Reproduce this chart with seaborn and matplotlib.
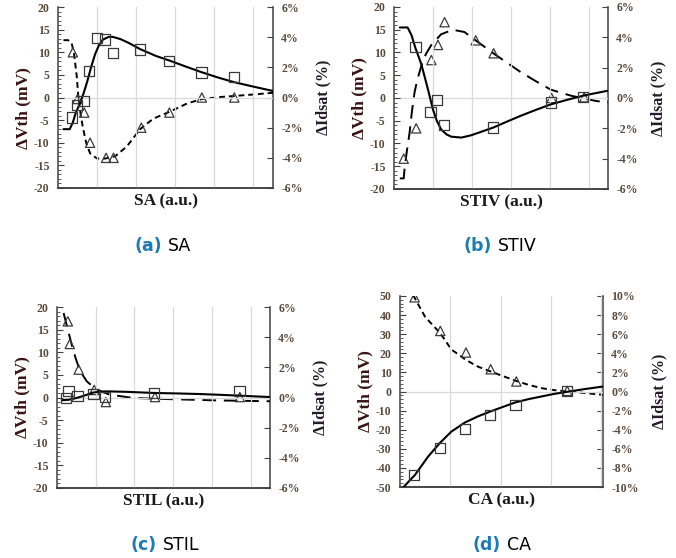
import numpy as np
import pandas as pd
import matplotlib
matplotlib.use("Agg")
import matplotlib.pyplot as plt
import seaborn as sns
from matplotlib.ticker import MultipleLocator, FuncFormatter

# ---- (a) SA ----
sa_sq_x = [0.35, 0.48, 0.65, 0.80, 0.99, 1.21, 1.40, 2.10, 2.84, 3.67, 4.50]
sa_sq_y = [-4.4, -1.6, -0.8, 5.8, 13.2, 12.8, 9.9, 10.6, 8.0, 5.5, 4.6]
sa_tri_x = [0.38, 0.50, 0.67, 0.82, 1.23, 1.42, 2.13, 2.85, 3.68, 4.51]
sa_tri_y = [3.0, -0.1, -1.0, -3.0, -4.0, -4.0, -2.0, -1.0, 0.0, 0.0]
sa_fit_x = [0.14, 0.30, 0.38, 0.45, 0.55, 0.65, 0.75, 0.85, 0.95, 1.05, 1.15, 1.30, 1.40,
            1.60, 1.80, 2.10, 2.50, 2.84, 3.25, 3.67, 4.10, 4.50, 5.00, 5.52]
sa_fit_y = [-7.0, -7.0, -5.5, -3.5, -1.5, 0.8, 3.6, 6.8, 9.6, 11.6, 12.8, 13.4, 13.4,
            12.9, 12.1, 10.7, 9.2, 8.2, 6.9, 5.6, 4.4, 3.4, 2.4, 1.4]
sa_dash_x = [0.14, 0.26, 0.35, 0.41, 0.48, 0.52, 0.56, 0.63, 0.72, 0.82, 1.00, 1.20,
             1.46, 1.76, 2.10, 2.44, 2.85, 3.30, 3.68, 4.10, 4.50, 5.00, 5.52]
sa_dash_y = [3.8, 3.8, 3.6, 2.9, 1.4, 0.05, -0.8, -1.9, -3.0, -3.7, -4.05, -4.05,
             -3.9, -3.25, -2.1, -1.4, -0.95, -0.4, -0.1, 0.02, 0.1, 0.2, 0.32]

# ---- (b) STIV ----
stiv_sq_x = [0.55, 0.94, 1.11, 1.28, 2.55, 4.03, 4.86]
stiv_sq_y = [11.2, -3.1, -0.4, -5.9, -6.5, -1.0, 0.2]
stiv_tri_x = [0.25, 0.57, 0.96, 1.13, 1.30, 2.10, 2.56, 4.05, 4.89]
stiv_tri_y = [-4.0, -2.0, 2.5, 3.5, 5.0, 3.8, 2.95, 0.0, 0.05]
stiv_fit_x = [0.15, 0.35, 0.45, 0.55, 0.70, 0.87, 1.00, 1.10, 1.21, 1.35, 1.47, 1.73,
              1.98, 2.25, 2.55, 2.90, 3.26, 3.65, 4.03, 4.45, 4.86, 5.20, 5.50]
stiv_fit_y = [15.5, 15.5, 13.8, 11.0, 7.5, 2.0, -2.5, -5.0, -6.9, -8.0, -8.5, -8.7,
              -8.2, -7.4, -6.5, -5.2, -3.9, -2.6, -1.4, -0.4, 0.5, 1.1, 1.6]
stiv_dash_x = [0.15, 0.25, 0.27, 0.33, 0.40, 0.46, 0.53, 0.60, 0.70, 0.82, 0.96, 1.21,
               1.51, 1.81, 2.10, 2.58, 3.26, 3.65, 4.03, 4.55, 4.89, 5.20, 5.50]
stiv_dash_y = [-5.3, -5.3, -4.7, -3.5, -2.3, -0.9, 0.4, 1.2, 2.1, 2.9, 3.5, 4.2,
               4.5, 4.35, 3.8, 2.9, 1.7, 1.1, 0.55, 0.15, -0.03, -0.2, -0.3]

# ---- (c) STIL ----
stil_sq_x = [0.24, 0.30, 0.53, 0.94, 1.24, 2.51, 4.71]
stil_sq_y = [-0.1, 1.4, 0.3, 0.8, 0.1, 1.0, 1.4]
stil_tri_x = [0.28, 0.33, 0.56, 0.96, 1.26, 2.53, 4.72]
stil_tri_y = [5.05, 3.55, 1.85, 0.5, -0.3, 0.03, 0.03]
stil_fit_x = [0.13, 0.30, 0.51, 0.70, 0.94, 1.10, 1.28, 1.80, 2.51, 3.10, 3.66, 4.20, 4.71, 5.50]
stil_fit_y = [-0.6, -0.5, -0.1, 0.4, 1.1, 1.3, 1.36, 1.25, 1.0, 0.9, 0.77, 0.6, 0.4, 0.1]
stil_dash_x = [0.17, 0.26, 0.38, 0.47, 0.56, 0.66, 0.77, 1.02, 1.36, 1.96, 2.81, 4.09, 5.50]
stil_dash_y = [5.6, 4.7, 3.5, 2.7, 2.0, 1.5, 1.07, 0.52, 0.19, -0.03, -0.1, -0.19, -0.25]

# ---- (d) CA ----
ca_sq_x = [0.28, 0.79, 1.29, 1.79, 2.29, 3.31]
ca_sq_y = [-43.6, -29.6, -19.5, -12.2, -7.0, 0.2]
ca_tri_x = [0.29, 0.80, 1.31, 1.80, 2.31, 3.32]
ca_tri_y = [9.86, 6.34, 4.08, 2.33, 1.05, 0.07]
ca_fit_x = [0.07, 0.30, 0.56, 0.79, 1.02, 1.29, 1.55, 1.79, 2.05, 2.29, 2.55, 2.81, 3.05, 3.31, 3.65, 4.03]
ca_fit_y = [-50.0, -43.6, -34.0, -27.0, -21.0, -16.2, -13.0, -10.5, -8.0, -5.7, -4.0, -2.6, -1.3, -0.2, 1.2, 2.6]
ca_dash_x = [0.26, 0.50, 0.80, 1.02, 1.31, 1.55, 1.80, 2.05, 2.31, 2.55, 2.81, 3.05, 3.32, 3.65, 4.03]
ca_dash_y = [10.1, 7.8, 6.1, 4.4, 3.3, 2.6, 2.1, 1.6, 1.1, 0.7, 0.35, 0.15, 0.0, -0.15, -0.35]

SERIF = "Liberation Serif"
SANS = "DejaVu Sans"
TICK_COLOR = "#5a4a3c"
SPINE_COLOR = "#404040"
GRID_COLOR = "#d9d9d9"


def draw_panel(fig, rect, name, sq_x, sq_y, tri_x, tri_y, fit_x, fit_y, dash_x, dash_y,
               xmax, vlim, vstep, vminor, ilim, dashes, label_y=0.5):
    ax = fig.add_axes(rect)
    ax2 = ax.twinx()

    for gx in range(1, int(xmax) + 1):
        if gx < xmax:
            ax.axvline(gx, color=GRID_COLOR, lw=0.9, zorder=0)
    ax.axhline(0, color=GRID_COLOR, lw=0.9, zorder=0)

    fit = pd.DataFrame({"x": fit_x, "y": fit_y})
    sq = pd.DataFrame({"x": sq_x, "y": sq_y})
    sns.lineplot(data=fit, x="x", y="y", ax=ax, color="black", lw=1.5, zorder=3)
    sns.scatterplot(data=sq, x="x", y="y", ax=ax, marker="s", s=55, facecolor="none",
                    edgecolor="#3a3a3a", linewidth=0.9, zorder=4)

    dash = pd.DataFrame({"x": dash_x, "y": dash_y})
    tri = pd.DataFrame({"x": tri_x, "y": tri_y})
    line = sns.lineplot(data=dash, x="x", y="y", ax=ax2, color="black", lw=1.4, zorder=3)
    line.lines[-1].set_dashes(dashes)
    sns.scatterplot(data=tri, x="x", y="y", ax=ax2, marker="^", s=45, facecolor="none",
                    edgecolor="#3a3a3a", linewidth=0.9, zorder=4)

    ax.set_xlim(0, xmax)
    ax.set_ylim(-vlim, vlim)
    ax2.set_ylim(-ilim, ilim)
    ax.set_xticks([])
    ax2.set_xticks([])

    ax.yaxis.set_major_locator(MultipleLocator(vstep))
    ax.yaxis.set_minor_locator(MultipleLocator(vminor))
    ax2.yaxis.set_major_locator(MultipleLocator(2))
    ax2.yaxis.set_major_formatter(FuncFormatter(lambda v, p: f"{v:.0f}%"))

    ax.tick_params(axis="y", which="major", left=True, direction="in", length=4, width=0.8,
                   color=SPINE_COLOR, pad=6, labelsize=8.5, labelcolor=TICK_COLOR)
    ax.tick_params(axis="y", which="minor", left=True, direction="in", length=2.5, width=0.6,
                   color=SPINE_COLOR)
    ax2.tick_params(axis="y", which="major", right=True, direction="in", length=4, width=0.8,
                    color=SPINE_COLOR, pad=6, labelsize=8.5, labelcolor=TICK_COLOR)
    for lab in ax.get_yticklabels() + ax2.get_yticklabels():
        lab.set_fontfamily(SERIF)
        lab.set_fontweight("bold")

    for a in (ax, ax2):
        a.spines["top"].set_visible(False)
        for s in ("left", "right", "bottom"):
            a.spines[s].set_color(SPINE_COLOR)
            a.spines[s].set_linewidth(1.1)
    ax.spines["right"].set_visible(False)
    ax2.spines["left"].set_visible(False)

    ax.set_xlabel(f"{name} (a.u.)", fontfamily=SERIF, fontweight="bold", fontsize=12.5,
                  color="#1a1a1a", labelpad=4)
    ax.set_ylabel("ΔVth (mV)", fontfamily=SERIF, fontweight="bold", fontsize=12.5,
                  color="#3a1414", labelpad=2)
    ax.yaxis.label.set_y(label_y)
    ax2.set_ylabel("ΔIdsat (%)", fontfamily=SERIF, fontweight="bold", fontsize=11.5,
                   color="#261a2a", labelpad=9, rotation=90)
    ax.set_zorder(ax2.get_zorder() + 1)
    ax.patch.set_visible(False)
    return ax, ax2


def caption(fig, xsplit, ybase, letter, name):
    fig.text(xsplit / 676, 1 - ybase / 558, f"({letter})", ha="right", va="baseline",
             fontfamily=SANS, fontweight="bold", fontsize=12.5, color="#1b7bb5")
    fig.text((xsplit + 6) / 676, 1 - ybase / 558, name, ha="left", va="baseline",
             fontfamily=SANS, fontsize=12.5, color="black")


sns.set_style("white")
plt.rcParams["axes.unicode_minus"] = False
fig = plt.figure(figsize=(6.76, 5.58), dpi=100)

W, H = 676, 558


def rect(l, r, t, b):
    return [l / W, 1 - b / H, (r - l) / W, (b - t) / H]


draw_panel(fig, rect(58, 273, 7, 188), "SA", sa_sq_x, sa_sq_y, sa_tri_x, sa_tri_y,
           sa_fit_x, sa_fit_y, sa_dash_x, sa_dash_y, 5.5, 20, 5, 1, 6, (3, 2), label_y=0.44)
draw_panel(fig, rect(394, 608, 7, 189), "STIV", stiv_sq_x, stiv_sq_y, stiv_tri_x, stiv_tri_y,
           stiv_fit_x, stiv_fit_y, stiv_dash_x, stiv_dash_y, 5.5, 20, 5, 1, 6, (7, 4))
draw_panel(fig, rect(57, 270, 307, 488), "STIL", stil_sq_x, stil_sq_y, stil_tri_x, stil_tri_y,
           stil_fit_x, stil_fit_y, stil_dash_x, stil_dash_y, 5.5, 20, 5, 1, 6, (7, 4))
draw_panel(fig, rect(400, 603, 296, 487), "CA", ca_sq_x, ca_sq_y, ca_tri_x, ca_tri_y,
           ca_fit_x, ca_fit_y, ca_dash_x, ca_dash_y, 4.03, 50, 10, 2, 10, (3, 2))

caption(fig, 162, 251, "a", "SA")
caption(fig, 492, 251, "b", "STIV")
caption(fig, 157, 550, "c", "STIL")
caption(fig, 501, 550, "d", "CA")

fig.savefig("out.png", dpi=100)
